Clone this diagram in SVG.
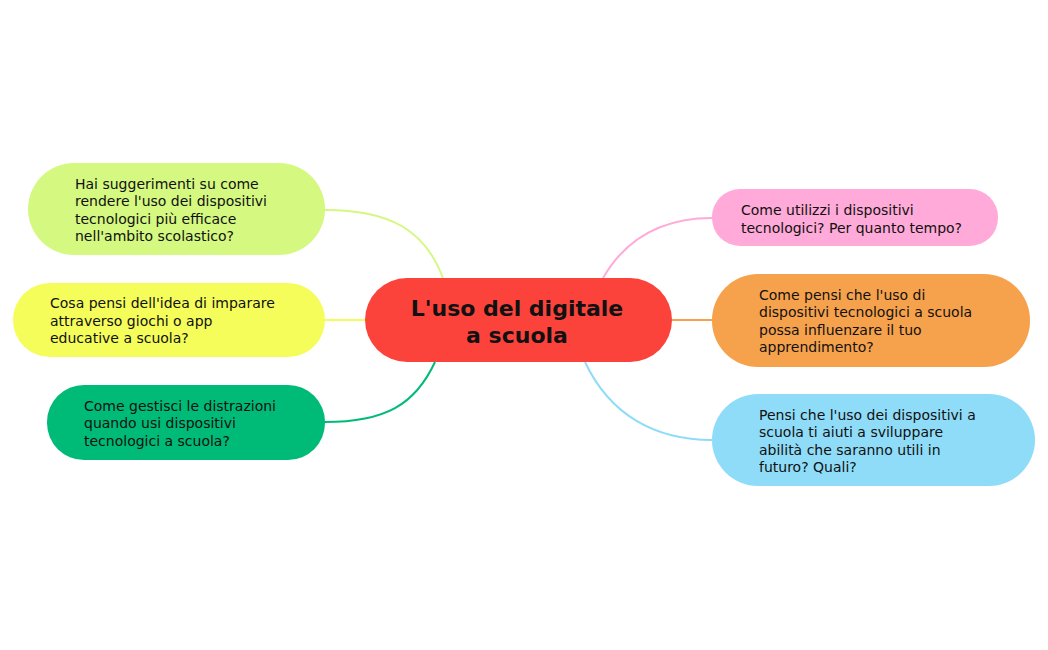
<svg xmlns="http://www.w3.org/2000/svg" width="1048" height="650" viewBox="0 0 1048 650">
<style>
text{font-family:"DejaVu Sans",sans-serif;font-size:14px;fill:#111}
.c{fill:none;stroke-width:2}
.t{font-size:22px;font-weight:bold;text-anchor:middle}
</style>
<rect width="1048" height="650" fill="#fff"/>
<g id="connectors">
<path class="c" stroke="#d4f880" d="M443,278 C425,230 390,210 325,210"/>
<path class="c" stroke="#f5fd5a" d="M365,320 L325,320"/>
<path class="c" stroke="#00bb77" d="M435,362 C415,405 385,422 325,422"/>
<path class="c" stroke="#ffaad8" d="M603,278 C625,240 660,218 712,218"/>
<path class="c" stroke="#f6a24c" d="M672,320 L712,320"/>
<path class="c" stroke="#8fdcf8" d="M585,362 C610,415 655,440 712,440"/>
</g>
<g id="center"><rect x="365" y="278" width="307" height="84" rx="42" fill="#fc433b"/>
<text class="t" x="517" y="316">L'uso del digitale</text><text class="t" x="517" y="343">a scuola</text></g>
<g id="n1"><rect x="28" y="163" width="297" height="92" rx="46" fill="#d4f880"/>
<text x="75" y="189">Hai suggerimenti su come</text><text x="75" y="206">rendere l'uso dei dispositivi</text><text x="75" y="224">tecnologici più efficace</text><text x="75" y="241">nell'ambito scolastico?</text></g>
<g id="n2"><rect x="13" y="283" width="312" height="74" rx="37" fill="#f5fd5a"/>
<text x="50" y="308">Cosa pensi dell'idea di imparare</text><text x="50" y="326">attraverso giochi o app</text><text x="50" y="343">educative a scuola?</text></g>
<g id="n3"><rect x="47" y="385" width="278" height="75" rx="37" fill="#00bb77"/>
<text x="84" y="411">Come gestisci le distrazioni</text><text x="84" y="428">quando usi dispositivi</text><text x="84" y="446">tecnologici a scuola?</text></g>
<g id="n4"><rect x="712" y="189" width="286" height="57" rx="28" fill="#ffaad8"/>
<text x="741" y="215">Come utilizzi i dispositivi</text><text x="741" y="233">tecnologici? Per quanto tempo?</text></g>
<g id="n5"><rect x="712" y="274" width="318" height="93" rx="46" fill="#f6a24c"/>
<text x="759" y="300">Come pensi che l'uso di</text><text x="759" y="317">dispositivi tecnologici a scuola</text><text x="759" y="335">possa influenzare il tuo</text><text x="759" y="352">apprendimento?</text></g>
<g id="n6"><rect x="712" y="394" width="323" height="92" rx="46" fill="#8fdcf8"/>
<text x="759" y="420">Pensi che l'uso dei dispositivi a</text><text x="759" y="437">scuola ti aiuti a sviluppare</text><text x="759" y="455">abilità che saranno utili in</text><text x="759" y="472">futuro? Quali?</text></g>
</svg>
